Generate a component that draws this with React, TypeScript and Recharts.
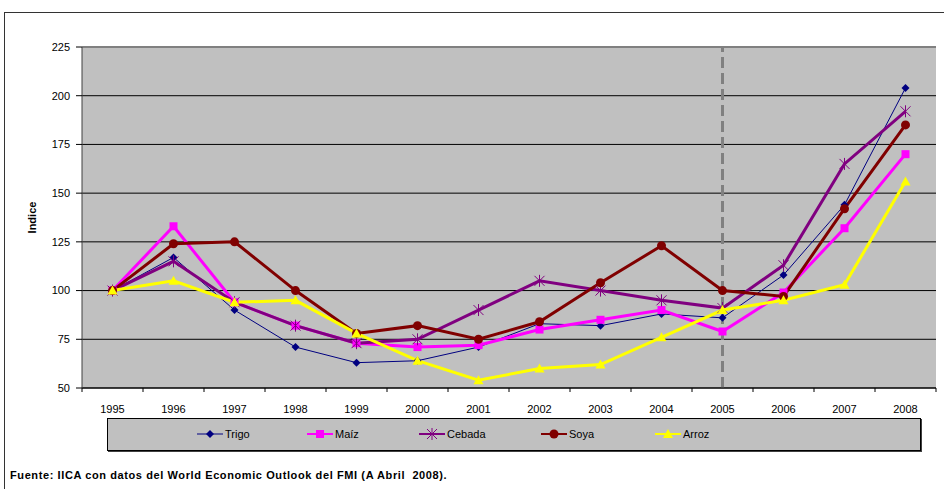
import React from 'react';
import { LineChart, Line, XAxis, YAxis, CartesianGrid, Legend, ReferenceLine } from 'recharts';

const years = ['1995', '1996', '1997', '1998', '1999', '2000', '2001', '2002', '2003', '2004', '2005', '2006', '2007', '2008'];
const trigo = [100, 117, 90, 71, 63, 64, 71, 83, 82, 88, 86, 108, 144, 204];
const maiz = [100, 133, 94, 82, 73, 71, 72, 80, 85, 90, 79, 99, 132, 170];
const cebada = [100, 115, 94, 82, 73, 75, 90, 105, 100, 95, 91, 113, 165, 192];
const soya = [100, 124, 125, 100, 78, 82, 75, 84, 104, 123, 100, 97, 142, 185];
const arroz = [100, 105, 94, 95, 78, 64, 54, 60, 62, 76, 90, 95, 103, 156];
const yTicks = [50, 75, 100, 125, 150, 175, 200, 225];
const projectionYear = '2005';

const data = years.map((year, i) => ({
  year,
  trigo: trigo[i],
  maiz: maiz[i],
  cebada: cebada[i],
  soya: soya[i],
  arroz: arroz[i],
}));

const series = [
  { key: 'trigo', name: 'Trigo', color: '#000080', width: 1, shape: 'diamond' },
  { key: 'maiz', name: 'Maíz', color: '#ff00ff', width: 3, shape: 'square' },
  { key: 'cebada', name: 'Cebada', color: '#800080', width: 3, shape: 'star' },
  { key: 'soya', name: 'Soya', color: '#800000', width: 3, shape: 'circle' },
  { key: 'arroz', name: 'Arroz', color: '#ffff00', width: 3, shape: 'triangle' },
];

// layout
const W = 944;
const H = 489;
const PLOT_LEFT = 82;
const PLOT_RIGHT = 936;
const HALF_BAND = (PLOT_RIGHT - PLOT_LEFT) / years.length / 2;
const legendX = [89, 199, 311, 433, 547];
const FONT = '"Liberation Sans", Arial, sans-serif';

const Marker = ({ shape, cx, cy, color }: any) => {
  if (cx == null || cy == null) return null;
  switch (shape) {
    case 'diamond':
      return <path d={`M${cx},${cy - 4}L${cx + 4},${cy}L${cx},${cy + 4}L${cx - 4},${cy}Z`} fill={color} />;
    case 'square':
      return <rect x={cx - 4} y={cy - 4} width={8} height={8} fill={color} />;
    case 'star':
      return (
        <path
          d={`M${cx - 5},${cy - 5}L${cx + 5},${cy + 5}M${cx - 5},${cy + 5}L${cx + 5},${cy - 5}M${cx},${cy - 6}L${cx},${cy + 6}`}
          stroke={color}
          strokeWidth={1}
          fill="none"
        />
      );
    case 'circle':
      return <circle cx={cx} cy={cy} r={4.5} fill={color} />;
    default:
      return <path d={`M${cx},${cy - 5}L${cx + 5},${cy + 4}L${cx - 5},${cy + 4}Z`} fill={color} />;
  }
};

const XTick = (props: any) => {
  const { x, y, payload, index } = props;
  const last = index === years.length - 1;
  return (
    <g>
      <line x1={x - HALF_BAND} x2={x - HALF_BAND} y1={y - 8} y2={y - 4} stroke="#000" />
      {last && <line x1={x + HALF_BAND} x2={x + HALF_BAND} y1={y - 8} y2={y - 4} stroke="#000" />}
      <text x={x} y={y + 17} textAnchor="middle" fontSize={11} fontFamily={FONT} fill="#000">
        {payload.value}
      </text>
    </g>
  );
};

const LegendBox = () => (
  <div
    style={{
      position: 'absolute',
      left: 107,
      top: 0,
      width: 812,
      height: 31,
      background: '#c0c0c0',
      border: '1px solid #000',
      boxShadow: '1px 1px 0 #404040',
      fontFamily: FONT,
      fontSize: 11,
    }}
  >
    {series.map((s, i) => (
      <div key={s.key} style={{ position: 'absolute', left: legendX[i], top: 8, display: 'flex', alignItems: 'center' }}>
        <svg width={26} height={14}>
          <line x1={0} x2={26} y1={7} y2={7} stroke={s.color} strokeWidth={s.width === 1 ? 1 : 2} />
          <Marker shape={s.shape} cx={13} cy={7} color={s.color} />
        </svg>
        <span style={{ marginLeft: 2, color: '#000' }}>{s.name}</span>
      </div>
    ))}
  </div>
);

export default function App() {
  return (
    <div style={{ position: 'absolute', left: 0, top: 0, width: W, height: H, overflow: 'hidden', background: '#fff' }}>
      <div
        style={{
          position: 'absolute',
          left: 4,
          top: 12,
          width: W,
          height: H,
          border: '1px solid #333',
        }}
      />
      <LineChart
        width={W}
        height={H}
        data={data}
        margin={{ top: 47, right: W - PLOT_RIGHT, bottom: 0, left: 0 }}
        style={{ position: 'absolute', left: 0, top: 0 }}
      >
        <CartesianGrid fill="#c0c0c0" vertical={false} stroke="#000" strokeOpacity={1} />
        <XAxis
          dataKey="year"
          height={30}
          padding={{ left: HALF_BAND, right: HALF_BAND }}
          axisLine={{ stroke: '#000' }}
          tickLine={false}
          tick={<XTick />}
          interval={0}
        />
        <YAxis
          width={PLOT_LEFT}
          domain={[50, 225]}
          ticks={yTicks}
          interval={0}
          axisLine={{ stroke: '#404040' }}
          tickLine={{ stroke: '#000' }}
          tickSize={6}
          tickMargin={6}
          tick={{ fontSize: 11, fontFamily: FONT, fill: '#000' }}
          label={{
            value: 'Indice',
            angle: -90,
            position: 'insideLeft',
            offset: 32,
            style: { fontSize: 11, fontWeight: 'bold', fontFamily: FONT, fill: '#000', textAnchor: 'middle' },
          }}
        />
        <ReferenceLine y={225} stroke="#808080" strokeWidth={2} />
        <ReferenceLine x={projectionYear} stroke="#808080" strokeWidth={3} strokeDasharray="11 5" />
        {series.map((s) => (
          <Line
            key={s.key}
            dataKey={s.key}
            name={s.name}
            stroke={s.color}
            strokeWidth={s.width}
            isAnimationActive={false}
            dot={(p: any) => <Marker key={`${s.key}-${p.index}`} shape={s.shape} cx={p.cx} cy={p.cy} color={s.color} />}
            activeDot={false}
          />
        ))}
        <Legend
          verticalAlign="bottom"
          height={71}
          wrapperStyle={{ left: 0, bottom: 0, width: W, height: 71 }}
          content={() => <LegendBox />}
        />
      </LineChart>
      <div
        style={{
          position: 'absolute',
          left: 10,
          top: 469,
          fontFamily: FONT,
          fontSize: 11,
          letterSpacing: 0.6,
          fontWeight: 'bold',
          color: '#000',
          whiteSpace: 'pre',
        }}
      >
        {'Fuente: IICA con datos del World Economic Outlook del FMI (A Abril  2008).'}
      </div>
    </div>
  );
}
